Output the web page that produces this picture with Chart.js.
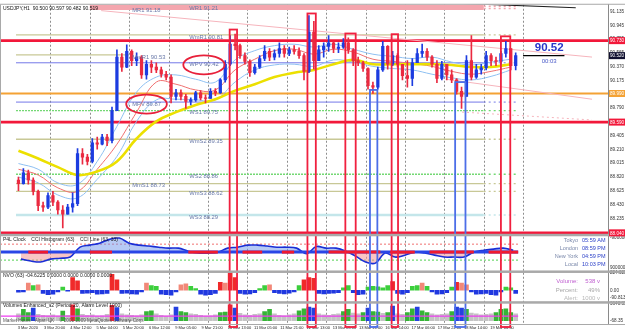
<!DOCTYPE html>
<html>
<head>
<meta charset="utf-8">
<title>USDJPY,H1</title>
<script src="https://cdn.jsdelivr.net/npm/chart.js@4.4.1/dist/chart.umd.min.js"></script>
<style>
  html, body { margin: 0; padding: 0; background: #fff; }
  canvas { display: block; }
</style>
</head>
<body>
<canvas id="chart" width="625" height="332"></canvas>
<script>

//================= DATA ==================
// USDJPY, read as 3-hour candles (slot = 3 hours)

const highs = [
    88.82, 88.94, 88.92, 88.81, 88.64, 88.47, 88.60, 88.62, 88.49, 88.42,
    88.44, 88.60, 89.22, 89.22, 89.14, 89.36, 89.38, 89.42, 89.42, 89.80,
    90.60, 90.55, 90.67, 90.60, 90.56, 90.52, 90.45, 90.45, 90.42, 90.36,
    90.30, 90.25, 90.05, 90.04, 89.98, 89.93, 90.02, 90.03, 89.97, 90.06,
    90.06, 90.20, 90.45, 90.80, 90.82, 90.68, 90.56, 90.46, 90.40, 90.52,
    90.66, 90.62, 90.60, 90.70, 90.66, 90.64, 90.66, 90.63, 90.55, 91.08,
    91.00, 90.66, 90.70, 90.80, 90.72, 90.70, 90.76, 90.77, 90.62, 90.50,
    90.44, 90.35, 90.15, 90.36, 90.72, 90.66, 90.58, 90.55, 90.40, 90.45,
    90.48, 90.62, 90.68, 90.62, 90.52, 90.45, 90.44, 90.40, 90.32, 90.20,
    90.08, 90.52, 90.80, 90.40, 90.40, 90.58, 90.55, 90.50, 90.58, 90.72,
    90.62, 90.56
];
const lows = [
    88.63, 88.72, 88.72, 88.57, 88.35, 88.34, 88.38, 88.42, 88.30, 88.11,
    88.30, 88.33, 88.42, 89.00, 88.99, 89.02, 89.21, 89.27, 89.26, 89.30,
    89.75, 90.30, 90.35, 90.38, 90.38, 90.20, 90.19, 90.28, 90.28, 90.22,
    90.18, 89.86, 89.90, 89.90, 89.78, 89.83, 89.88, 89.90, 89.86, 89.92,
    89.96, 89.99, 90.15, 90.38, 90.60, 90.48, 90.40, 90.23, 90.26, 90.34,
    90.45, 90.45, 90.46, 90.50, 90.50, 90.52, 90.54, 90.48, 90.18, 90.28,
    90.33, 90.45, 90.50, 90.58, 90.56, 90.56, 90.62, 90.55, 90.38, 90.38,
    90.30, 90.05, 89.99, 90.05, 90.30, 90.33, 90.38, 90.36, 90.18, 90.08,
    90.10, 90.42, 90.50, 90.45, 90.36, 90.14, 90.18, 90.18, 90.14, 89.98,
    89.78, 89.95, 90.18, 90.20, 90.26, 90.32, 90.38, 90.38, 90.40, 90.50,
    90.32, 90.32
];
const closes = [
    88.73, 88.88, 88.78, 88.62, 88.42, 88.40, 88.56, 88.47, 88.36, 88.30,
    88.40, 88.45, 89.15, 89.10, 89.04, 89.30, 89.28, 89.38, 89.33, 89.75,
    90.50, 90.36, 90.58, 90.45, 90.50, 90.25, 90.40, 90.36, 90.32, 90.26,
    90.22, 89.95, 90.00, 89.95, 89.88, 89.90, 90.00, 89.93, 89.92, 90.02,
    90.00, 90.18, 90.40, 90.68, 90.66, 90.52, 90.44, 90.28, 90.36, 90.48,
    90.58, 90.50, 90.55, 90.62, 90.55, 90.60, 90.58, 90.52, 90.30, 90.85,
    90.45, 90.60, 90.65, 90.70, 90.62, 90.64, 90.70, 90.60, 90.45, 90.42,
    90.34, 90.10, 90.08, 90.32, 90.65, 90.40, 90.52, 90.40, 90.24, 90.20,
    90.42, 90.55, 90.58, 90.50, 90.40, 90.20, 90.40, 90.25, 90.18, 90.02,
    89.95, 90.45, 90.22, 90.32, 90.35, 90.52, 90.45, 90.44, 90.55, 90.62,
    90.38, 90.52
];
const firstOpen = 88.78;

// moving averages, one reading every 4 slots
const maStep = 4;
const yellowMA = [89.19, 89.08, 88.96, 88.85, 88.90, 89.04, 89.36, 89.60, 89.73, 89.83, 89.91, 90.03, 90.12,
                  90.22, 90.28, 90.32, 90.40, 90.46, 90.40, 90.40, 90.40, 90.40, 90.39, 90.36, 90.36, 90.40];
const redMA    = [88.93, 88.85, 88.67, 88.62, 88.93, 89.28, 89.73, 90.15, 90.12, 90.04, 90.04, 90.32, 90.47,
                  90.59, 90.61, 90.54, 90.61, 90.57, 90.47, 90.44, 90.41, 90.37, 90.30, 90.26, 90.30, 90.36];
const blueUpper = [89.01, 88.93, 88.74, 88.72, 89.04, 89.53, 90.01, 90.22, 90.25, 90.19, 90.15, 90.46, 90.59,
                   90.66, 90.68, 90.64, 90.68, 90.61, 90.54, 90.51, 90.48, 90.50, 90.43, 90.39, 90.43, 90.47];
const blueLower = [88.82, 88.74, 88.57, 88.53, 88.79, 89.11, 89.60, 89.90, 89.91, 89.90, 89.90, 90.15, 90.32,
                   90.39, 90.40, 90.37, 90.46, 90.43, 90.37, 90.34, 90.32, 90.26, 90.21, 90.18, 90.23, 90.32];

// pivot levels
const pivotNames  = ['MR1', 'WR1', 'WmR1', 'MmR1', 'WPV', 'MPV', 'WS1', 'WmS2', 'WS2', 'MmS1', 'WmS3', 'WS3'];
const pivotValues = [91.18, 91.21, 90.81, 90.53, 90.42, 89.87, 89.75, 89.35, 88.86, 88.73, 88.62, 88.29];
const redLevels = [90.73, 89.59, 88.04];
const orangeLevel = 89.99;

// trend lines [slot, price]
const trendPink = [[17.3, 91.15], [117, 90.50]];
const trendPink2 = [[87.3, 90.19], [117, 89.91]];
const trendDotted = [[90.6, 89.73], [117, 89.62]];
const trendBlack = [[90.6, 91.25], [113.7, 91.19]];

// signal frames
const signalFrom = [43.4, 59.2, 66.9, 71.9, 76.3, 89.2, 98.5];
const signalTo   = [44.9, 60.9, 69.0, 73.4, 77.6, 91.3, 100.4];
const signalTop  = [90.885, 91.11, 90.83, 90.04, 90.82, 90.15, 90.79];
const signalSide = ['sell', 'sell', 'sell', 'buy', 'sell', 'buy', 'sell'];

// CCI line, one reading every 2 slots
const cci = [-44, -56, -62, -44, -38, -31, 31, 44, 56, 80, 88, 56, 44, 38, 31, 25, 25, 6, -6, -6,
             0, 25, 31, 44, 44, 38, 31, 31, 25, -10, 35, 25, 25, 6, -25, -62, -69, -6, -31, -19,
             0, -6, -19, -31, -31, -31, 0, 12, 19, 25, 12];
const cciRedRanges = [[2.5, 6.5], [15, 19.5], [35, 41], [46, 50], [54, 56.5], [63.5, 74], [76, 81], [84, 93], [96, 102]];

// NVO histogram
const nvo = [
    -25, -20, 90, 60, 70, -40, -55, -50, -20, 40,
    -10, 160, 120, -40, -35, -30, -50, -45, -40, 200,
    130, -40, -35, -45, -50, -20, 90, 60, 50, -50,
    -55, -60, -20, 70, 80, 50, 20, -50, -60, -55,
    -40, 100, 90, 230, 160, -40, -50, -45, -30, 20,
    60, 70, -30, -40, -45, -35, -20, 60, 130, 160,
    150, -40, -45, -40, -35, -30, 30, 60, -30, -55,
    -50, 40, 50, 45, 30, 60, 110, -40, -50, -30,
    50, 60, 90, 50, -20, -50, -45, -30, 40, 100,
    90, 70, -20, -50, -45, -40, -55, -60, -20, 40,
    30, -40
];

// volumes
const volumes = [
    1500, 2500, 1800, 2800, 1400, 1200, 1100, 1300, 1000, 2100,
    1200, 3500, 2600, 1400, 1200, 1300, 1000, 1100, 1400, 3400,
    2900, 1500, 1300, 1200, 1100, 1300, 2000, 2200, 1500, 1200,
    1000, 1300, 3000, 2000, 1800, 1500, 1400, 1200, 1000, 1100,
    1300, 1800, 1900, 3500, 2800, 1600, 1300, 1200, 1400, 1500,
    2000, 2500, 1500, 1200, 1100, 1300, 1500, 2200, 2600, 3000,
    2800, 1500, 1300, 1200, 1400, 1500, 2000, 2500, 1700, 1500,
    1800, 2800, 2000, 1900, 1600, 1800, 3200, 1500, 1400, 1800,
    2600, 3000, 2200, 1800, 1500, 1300, 1400, 1500, 2000, 3000,
    2800, 2500, 1700, 1500, 1300, 1400, 1500, 1800, 2500, 2600,
    1800, 1500
];
const alarmLevel = 1000;

// axes
const timeLabels = ['3 Mar 2020', '3 Mar 20:00', '4 Mar 12:00', '5 Mar 04:00', '5 Mar 20:00', '6 Mar 12:00',
                    '9 Mar 05:00', '9 Mar 21:00', '10 Mar 13:00', '11 Mar 05:00', '11 Mar 21:00', '12 Mar 13:00',
                    '13 Mar 05:00', '13 Mar 21:00', '16 Mar 14:00', '17 Mar 06:00', '17 Mar 22:00', '18 Mar 14:00',
                    '19 Mar 06:00'];
const timeTickPos = timeLabels.map((t, k) => (16 * k + 1) / 3); // every 16 hours
const dayStarts = [7, 15, 23, 31, 39, 47, 55, 63, 71, 79, 87, 95, 103];
const priceTicks = [91.135, 90.945, 90.755, 90.565, 90.370, 90.175, 89.985, 89.790, 89.600,
                    89.405, 89.210, 89.015, 88.820, 88.625, 88.430, 88.235, 88.040];
const cciTicks = [90, -96];
const cciTickText = ['-9000000', '9000000'];
const nvoTicks = [224.025, 0, -90.8135];
const nvoTickText = ['224.025', '0.00', '-90.8135'];
const volTicks = [3640.35, -68.35];
const volTickText = ['3640.35', '-68.35'];

//================= BUILD ==================

const FONT = "'Liberation Sans', Arial, sans-serif";
Chart.defaults.font.family = FONT;
Chart.defaults.color = '#222';

const UP = '#1c3ce0';
const DOWN = '#ea2a40';

const slotX = i => i + 0.5;
const opens = closes.map((c, i) => i === 0 ? firstOpen : closes[i - 1]);
const candleColors = closes.map((c, i) => c >= opens[i] ? UP : DOWN);
const maPoints = arr => arr.map((v, i) => ({ x: i * maStep + 0.5, y: v }));
const pairPoints = arr => arr.map(p => ({ x: p[0], y: p[1] }));

const nvoColor = v => v < 0 ? '#2038e0' : (v >= 100 ? '#f02a2a' : (v >= 70 ? '#f28878' : '#3ccf3c'));
const volColor = v => v >= 3400 ? '#e82434' : (v >= 2800 ? '#2440e0' : (v >= 1800 ? '#36b436' : '#c4c4c4'));

function lineSet(points, color, width, extra) {
    return Object.assign({
        type: 'line', yAxisID: 'y', data: points, borderColor: color, borderWidth: width,
        pointRadius: 0, tension: 0.4, fill: false
    }, extra || {});
}

function fixedTicks(values) {
    return scale => { scale.ticks = values.map(v => ({ value: v })); };
}

function hline(ctx, x1, x2, y) {
    ctx.beginPath(); ctx.moveTo(x1, y); ctx.lineTo(x2, y); ctx.stroke();
}

function txt(ctx, s, x, y, color, font, align) {
    ctx.fillStyle = color;
    ctx.font = font;
    ctx.textAlign = align || 'left';
    ctx.textBaseline = 'middle';
    ctx.fillText(s, x, y);
}

// pivot line style, by name
function pivotStyle(name) {
    if (name.endsWith('R1') && !name.includes('m')) return { color: '#f4a6ae', width: 3, from: 15, dash: [] };
    if (name.includes('PV')) return { color: '#7478e8', width: 1, from: 0, dash: [] };
    if (name === 'WS3') return { color: '#c4e6ea', width: 2.5, from: 0, dash: [] };
    if (name.startsWith('WS')) return { color: '#74d874', width: 1.3, from: 0, dash: [2, 1] };
    if (name === 'MmR1') return { color: '#c8c896', width: 1.3, from: 0, to: 23, dash: [] };
    return { color: '#c8c896', width: 1.3, from: 0, dash: [] };
}

const overlay = {
    id: 'overlay',
    beforeDatasetsDraw(chart) {
        const { ctx, chartArea: a, scales: { x, y, yc } } = chart;
        ctx.save();

        // day separators
        ctx.strokeStyle = '#8e8e8e';
        ctx.lineWidth = 1;
        ctx.setLineDash([2, 2]);
        dayStarts.forEach(d => {
            const px = Math.round(x.getPixelForValue(d)) + 0.5;
            ctx.beginPath(); ctx.moveTo(px, a.top); ctx.lineTo(px, a.bottom); ctx.stroke();
        });

        // pivot lines
        const solidEnd = 95, dotEnd = 102;
        pivotNames.forEach((name, i) => {
            const st = pivotStyle(name);
            const py = y.getPixelForValue(pivotValues[i]);
            ctx.strokeStyle = st.color;
            ctx.lineWidth = st.width;
            ctx.setLineDash(st.dash);
            hline(ctx, x.getPixelForValue(st.from), x.getPixelForValue(st.to || solidEnd), py);
            if (!st.to) {
                ctx.setLineDash([2, 3]);
                ctx.lineWidth = Math.min(st.width, 1.5);
                hline(ctx, x.getPixelForValue(solidEnd), x.getPixelForValue(dotEnd), py);
            }
        });
        ctx.setLineDash([]);
        ctx.strokeStyle = '#f4a234';
        ctx.lineWidth = 2;
        hline(ctx, a.left, a.right, y.getPixelForValue(orangeLevel));
        ctx.strokeStyle = '#f2183a';
        ctx.lineWidth = 2.6;
        redLevels.forEach(v => hline(ctx, a.left, a.right, y.getPixelForValue(v)));

        // CCI levels
        ctx.lineWidth = 1;
        ctx.setLineDash([2, 2]);
        ctx.strokeStyle = '#f07070';
        hline(ctx, a.left, x.getPixelForValue(closes.length), yc.getPixelForValue(50));
        ctx.strokeStyle = '#50d050';
        hline(ctx, a.left, x.getPixelForValue(closes.length), yc.getPixelForValue(-50));
        ctx.restore();
    },
    afterDatasetsDraw(chart) {
        const { ctx, chartArea: a, scales: { x, y, yc, yn, yv } } = chart;
        const W = chart.width;
        ctx.save();

        // CCI zero band
        const z = yc.getPixelForValue(0);
        ctx.lineWidth = 3;
        ctx.strokeStyle = '#2a46e6';
        hline(ctx, a.left, x.getPixelForValue(closes.length), z);
        ctx.strokeStyle = '#f01a30';
        cciRedRanges.forEach(r => hline(ctx, x.getPixelForValue(r[0]), x.getPixelForValue(r[1]), z));

        // volume alarm line
        ctx.strokeStyle = '#ee3cf0';
        ctx.lineWidth = 1.4;
        hline(ctx, a.left, x.getPixelForValue(closes.length), yv.getPixelForValue(alarmLevel));

        // signal frames
        ctx.lineWidth = 1.8;
        signalFrom.forEach((f, i) => {
            const l = x.getPixelForValue(f), r = x.getPixelForValue(signalTo[i]);
            const t = y.getPixelForValue(signalTop[i]);
            ctx.strokeStyle = signalSide[i] === 'sell' ? '#f0203f' : '#4c6ee8';
            ctx.strokeRect(l, t, r - l, a.bottom + 3 - t);
        });

        // pivot labels
        const lblFont = '5.8px ' + FONT;
        pivotNames.forEach((name, i) => {
            const slot = name.startsWith('M') ? 23.6 : 35.2;
            const px = x.getPixelForValue(slot);
            const py = y.getPixelForValue(pivotValues[i]) + 2;
            const s = name + ' ' + pivotValues[i].toFixed(2);
            txt(ctx, s, px, py, '#6878a8', lblFont);
            if (name.includes('PV')) {
                const w = ctx.measureText(s).width;
                ctx.strokeStyle = '#e8203a';
                ctx.lineWidth = 1.8;
                ctx.beginPath();
                ctx.ellipse(px + w / 2, py, w / 2 + 6, 9.5, 0, 0, Math.PI * 2);
                ctx.stroke();
            }
        });

        // last price marker
        const last = closes[closes.length - 1];
        const lp = y.getPixelForValue(last);
        ctx.strokeStyle = '#000';
        ctx.lineWidth = 1.2;
        hline(ctx, x.getPixelForValue(103), x.getPixelForValue(111.4), lp);
        txt(ctx, last.toFixed(2), x.getPixelForValue(108.3), lp - 8, '#2838c8', 'bold 11.5px ' + FONT, 'center');
        txt(ctx, '00:03', x.getPixelForValue(108.3), lp + 6, '#4858c8', '6px ' + FONT, 'center');

        // panel separators
        ctx.fillStyle = '#a9a9a9';
        [y, yc, yn].forEach(s => ctx.fillRect(0, s.bottom, W, 2.5));
        ctx.fillRect(0, yv.bottom, W, 1);
        ctx.fillRect(0, a.top - 1, W, 1);
        ctx.fillRect(0, a.top, 1, a.bottom - a.top);

        // price boxes on the axis
        const box = (v, color) => {
            const py = y.getPixelForValue(v);
            ctx.fillStyle = color;
            ctx.fillRect(y.left + 1, py - 3.5, W - y.left - 1, 7);
            txt(ctx, v.toFixed(3), y.left + 2, py + 0.5, '#fff', '4.6px ' + FONT);
        };
        redLevels.forEach(v => box(v, '#f2183a'));
        box(orangeLevel, '#f4a234');
        box(last, '#101030');

        // titles
        const f5 = '5px ' + FONT;
        txt(ctx, 'USDJPY,H1  90.500 90.597 90.482 90.519', 3, y.top + 3.5, '#111', f5);
        txt(ctx, 'P4L Clock    CCI Histogram (63)    CCI Line (63, 33)', 3, yc.top + 6, '#222', f5);
        txt(ctx, 'NVO (63) -04.6225 0.0000 0.0000 0.0000 0.0000', 3, yn.top + 5, '#222', f5);
        txt(ctx, 'Volumes Enhanced_v2 (Period 20, Alarm Level 1000)', 3, yv.top + 4.5, '#222', f5);
        txt(ctx, 'Market Hours - Alpari UK    \u00a9 2001-2009 MetaQuotes Software Corp.', 3, yv.bottom - 3, '#555', '4.6px ' + FONT);

        // clock
        const clockNames = ['Tokyo', 'London', 'New York', 'Local'];
        const clockTimes = ['05:59 AM', '08:59 PM', '04:59 PM', '10:03 PM'];
        const f55 = '5.5px ' + FONT;
        clockNames.forEach((n, i) => {
            const py = yc.top + 7 + i * 8;
            txt(ctx, n, a.right - 30, py, '#7a88aa', f55, 'right');
            txt(ctx, clockTimes[i], a.right - 26, py, '#2c40c8', f55);
        });

        // volume info
        const infoNames = ['Volume:', 'Percent:', 'Alert:'];
        const infoValues = ['538 v', '49%', '1000 v'];
        const infoColors = ['#c060d0', '#a8a8a8', '#b8b8b8'];
        infoNames.forEach((n, i) => {
            const py = yn.top + 11 + i * 8.5;
            txt(ctx, n, a.right - 30, py, infoColors[i], '6px ' + FONT, 'right');
            txt(ctx, infoValues[i], a.right - 8, py, infoColors[i], '6px ' + FONT, 'right');
        });

        ctx.restore();
    }
};

const tickFont = { size: 4.6 };
function sideAxis(stackWeight, min, max, ticks, texts) {
    return {
        type: 'linear', position: 'right', stack: 'panes', stackWeight: stackWeight,
        min: min, max: max,
        grid: { display: false, drawTicks: false },
        border: { color: '#8a8a8a' },
        afterFit: s => { s.width = 17; },
        afterBuildTicks: fixedTicks(ticks),
        ticks: { autoSkip: false, padding: 2, font: tickFont, color: '#333', callback: (v, i) => texts[i] }
    };
}

const ctx = document.getElementById('chart').getContext('2d');
const chart = new Chart(ctx, {
    type: 'bar',
    data: {
        datasets: [
            {
                data: closes.map((c, i) => ({ x: slotX(i), y: [opens[i], c] })),
                backgroundColor: candleColors, barThickness: 2.6, grouped: false, yAxisID: 'y'
            },
            {
                data: closes.map((c, i) => ({ x: slotX(i), y: [lows[i], highs[i]] })),
                backgroundColor: candleColors, barThickness: 1, grouped: false, yAxisID: 'y'
            },
            lineSet(maPoints(yellowMA), '#ece000', 2.6),
            lineSet(maPoints(redMA), '#f07070', 1),
            lineSet(maPoints(blueUpper), '#8ec0f2', 1),
            lineSet(maPoints(blueLower), '#8ec0f2', 1),
            lineSet(pairPoints(trendPink), '#f6b4bc', 1, { tension: 0 }),
            lineSet(pairPoints(trendPink2), '#f6b4bc', 1, { tension: 0 }),
            lineSet(pairPoints(trendDotted), '#f6b4bc', 1, { tension: 0, borderDash: [2, 3] }),
            lineSet(pairPoints(trendBlack), '#202020', 1.2, { tension: 0 }),
            {
                type: 'line', yAxisID: 'yc',
                data: cci.map((v, j) => ({ x: 2 * j + 1, y: v })),
                borderColor: '#1a2ed6', borderWidth: 1.6, pointRadius: 0, tension: 0.35,
                fill: { target: { value: 0 }, above: 'rgba(112,150,236,0.5)', below: 'rgba(244,150,150,0.55)' }
            },
            {
                yAxisID: 'yn',
                data: nvo.map((v, i) => ({ x: slotX(i), y: v })),
                backgroundColor: nvo.map(nvoColor), barThickness: 4, grouped: false
            },
            {
                yAxisID: 'yv',
                data: volumes.map((v, i) => ({ x: slotX(i), y: v })),
                backgroundColor: volumes.map(volColor), barThickness: 4, grouped: false
            }
        ]
    },
    options: {
        responsive: false,
        animation: false,
        devicePixelRatio: 1,
        events: [],
        layout: { padding: { top: 2, left: 0, right: 0, bottom: 0 } },
        plugins: { legend: { display: false }, tooltip: { enabled: false } },
        scales: {
            x: {
                type: 'linear', min: 0, max: 117,
                grid: { display: false, drawTicks: false },
                border: { color: '#9a9a9a' },
                afterFit: s => { s.height = 8; },
                afterBuildTicks: fixedTicks(timeTickPos),
                ticks: {
                    autoSkip: false, maxRotation: 0, minRotation: 0, align: 'start', padding: 1,
                    font: { size: 4 }, color: '#222', callback: (v, i) => timeLabels[i]
                }
            },
            y: sideAxis(231, 88.027, 91.232, priceTicks, priceTicks.map(v => v.toFixed(3))),
            yc: sideAxis(37, -115, 115, cciTicks, cciTickText),
            yn: sideAxis(31, -137, 249, nvoTicks, nvoTickText),
            yv: sideAxis(23, -723, 4295, volTicks, volTickText)
        }
    },
    plugins: [overlay]
});
</script>
</body>
</html>
